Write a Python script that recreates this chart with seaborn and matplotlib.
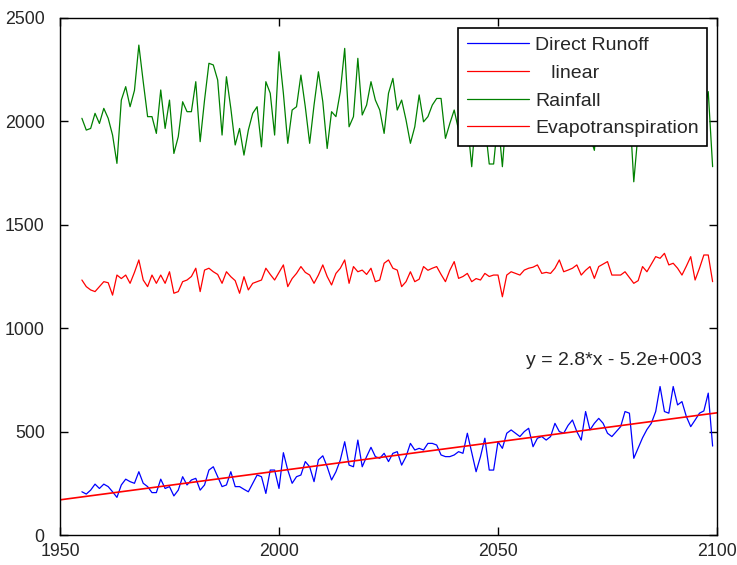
import matplotlib
matplotlib.use('Agg')
import matplotlib.pyplot as plt
import numpy as np
import seaborn as sns

# annual series 1955-2099
years = np.arange(1955, 2100)

runoff = [209, 198, 217, 246, 225, 246, 234, 209, 182, 242,
          270, 258, 250, 306, 250, 234, 205, 205, 270, 225,
          234, 189, 217, 282, 242, 266, 274, 217, 242, 314,
          330, 282, 234, 242, 306, 234, 234, 221, 209, 250,
          290, 282, 201, 314, 314, 225, 398, 314, 250, 282,
          290, 355, 330, 258, 363, 383, 330, 266, 306, 363,
          451, 338, 330, 459, 330, 379, 424, 379, 371, 395,
          355, 395, 403, 338, 379, 443, 411, 419, 411, 443,
          443, 435, 387, 379, 379, 387, 403, 395, 492, 400,
          306, 379, 468, 314, 314, 451, 419, 492, 508, 492,
          476, 500, 516, 427, 468, 476, 459, 476, 540, 500,
          492, 530, 556, 500, 459, 597, 508, 540, 564, 540,
          492, 476, 500, 524, 597, 589, 371, 420, 470, 510,
          540, 597, 718, 597, 589, 718, 629, 645, 573, 524,
          556, 589, 600, 686, 430]

rainfall = [2015, 1958, 1966, 2039, 1990, 2063, 2015, 1934, 1797, 2103,
            2168, 2071, 2150, 2369, 2192, 2023, 2023, 1942, 2152, 1966,
            2103, 1845, 1926, 2095, 2047, 2047, 2192, 1902, 2103, 2281,
            2273, 2200, 1934, 2216, 2063, 1886, 1966, 1837, 1958, 2039,
            2071, 1877, 2192, 2136, 1934, 2337, 2136, 1894, 2055, 2071,
            2224, 2071, 1894, 2079, 2240, 2095, 1869, 2047, 2023, 2144,
            2353, 1974, 2023, 2305, 2031, 2079, 2192, 2103, 2055, 1942,
            2136, 2208, 2055, 2103, 2007, 1894, 1974, 2128, 1998, 2023,
            2079, 2111, 2111, 1918, 1990, 2055, 1958, 2030, 2000, 1781,
            2050, 2100, 1990, 1794, 1794, 2010, 1781, 2060, 2150, 1980,
            2120, 2200, 1950, 2080, 2180, 2010, 1920, 2090, 2240, 2030,
            1960, 2110, 2060, 2190, 1990, 2040, 1930, 1860, 2070, 2160,
            2000, 2100, 2230, 2010, 1940, 2080, 1708, 1950, 2120, 2060,
            2200, 1980, 2050, 2150, 1920, 2090, 2010, 2180, 1960, 2070,
            2120, 1990, 2050, 2144, 1781]

evapotranspiration = [1233, 1201, 1185, 1177, 1201, 1225, 1220, 1160, 1257, 1240,
                      1257, 1217, 1270, 1330, 1233, 1201, 1257, 1217, 1257, 1217,
                      1273, 1169, 1177, 1225, 1233, 1250, 1290, 1177, 1281, 1290,
                      1273, 1260, 1217, 1273, 1249, 1230, 1169, 1249, 1185, 1217,
                      1225, 1233, 1290, 1260, 1233, 1270, 1306, 1201, 1240, 1265,
                      1298, 1270, 1257, 1217, 1257, 1306, 1250, 1209, 1265, 1290,
                      1330, 1217, 1298, 1273, 1281, 1260, 1290, 1225, 1233, 1314,
                      1330, 1290, 1281, 1201, 1225, 1273, 1225, 1237, 1298, 1280,
                      1290, 1298, 1260, 1225, 1280, 1322, 1241, 1250, 1265, 1225,
                      1240, 1233, 1265, 1250, 1257, 1257, 1152, 1257, 1273, 1265,
                      1257, 1281, 1290, 1295, 1306, 1265, 1270, 1265, 1290, 1330,
                      1273, 1281, 1290, 1306, 1257, 1280, 1298, 1241, 1298, 1310,
                      1322, 1257, 1257, 1257, 1273, 1245, 1217, 1230, 1298, 1273,
                      1310, 1346, 1338, 1362, 1306, 1314, 1290, 1257, 1300, 1346,
                      1233, 1290, 1354, 1354, 1225]

fit_label = 'y = 2.8*x - 5.2e+003'

sns.set_style('ticks')
plt.rcParams['font.family'] = ['Liberation Sans', 'DejaVu Sans']

fig = plt.figure(figsize=(7.37, 5.65), dpi=100)
ax = fig.add_axes([60 / 737, 30 / 565, 657 / 737, 517 / 565])

ax.set_xlim(1950, 2100)
ax.set_ylim(0, 2500)

# linear fit of the runoff, drawn over the whole x range
coef = np.polyfit(years, runoff, 1)
fit_x = np.array(ax.get_xlim())
fit_y = np.polyval(coef, fit_x)

sns.lineplot(x=years, y=runoff, color='#0000ff', lw=0.9, ax=ax, label='Direct Runoff')
sns.lineplot(x=fit_x, y=fit_y, color='#ff0000', lw=1.2, ax=ax, label='   linear')
sns.lineplot(x=years, y=rainfall, color='#008000', lw=0.9, ax=ax, label='Rainfall')
sns.lineplot(x=years, y=evapotranspiration, color='#ff0000', lw=0.9, ax=ax,
             label='Evapotranspiration')

ax.text(2056.5, 846, fit_label, fontsize=14, ha='left', va='center')

ax.set_xticks([1950, 2000, 2050, 2100])
ax.set_yticks(np.arange(0, 2501, 500))
ax.tick_params(direction='in', top=True, right=True, length=5.5, width=1,
               labelsize=12.8, color='black')
ax.tick_params(axis='x', pad=6)
ax.tick_params(axis='y', pad=11)
for sp in ax.spines.values():
    sp.set_color('black')
    sp.set_linewidth(1.0)
ax.set_xlabel('')
ax.set_ylabel('')

leg = ax.legend(loc='upper right', fontsize=14, frameon=True, fancybox=False,
                framealpha=1, edgecolor='black', handlelength=3.2,
                handletextpad=0.3, labelspacing=0.52, borderpad=0.45,
                borderaxespad=0.5)
leg.get_frame().set_linewidth(1.2)
for line in leg.get_lines():
    line.set_linewidth(0.9)

fig.savefig('out.png', dpi=100)
